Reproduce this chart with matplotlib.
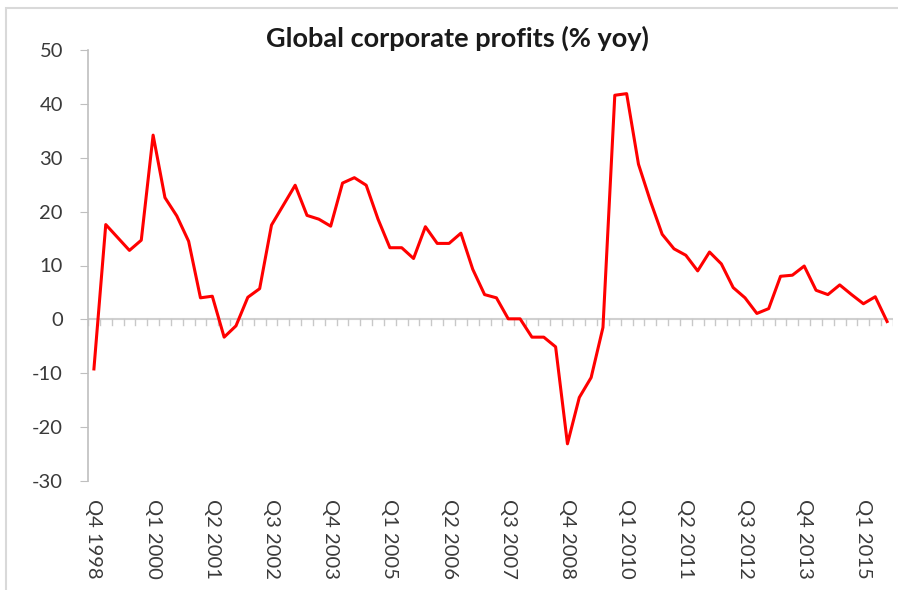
import matplotlib.pyplot as plt
from matplotlib.patches import Rectangle

plt.rcParams['font.family'] = ['Lato', 'DejaVu Sans']
plt.rcParams['axes.unicode_minus'] = False

# Global corporate profits, % yoy, quarterly from Q4 1998
start_year = 1998
start_quarter = 4
profits = [-9.2, 17.6, 15.2, 12.8, 14.7, 34.2, 22.6, 19.2, 14.5, 4.0,
           4.3, -3.3, -1.2, 4.1, 5.7, 17.5, 21.2, 24.9, 19.3, 18.6,
           17.3, 25.3, 26.3, 24.9, 18.6, 13.3, 13.3, 11.3, 17.2, 14.1,
           14.1, 16.0, 9.3, 4.6, 4.0, 0.1, 0.1, -3.3, -3.3, -5.1,
           -23.1, -14.5, -10.8, -1.5, 41.6, 41.9, 28.8, 22.0, 15.8, 13.1,
           11.9, 9.0, 12.5, 10.3, 5.9, 4.0, 1.1, 2.0, 8.0, 8.2,
           9.9, 5.4, 4.6, 6.4, 4.6, 2.9, 4.2, -0.4]

quarters = []
for i in range(len(profits)):
    q = (start_quarter - 1 + i) % 4 + 1
    y = start_year + (start_quarter - 1 + i) // 4
    quarters.append("Q%d %d" % (q, y))

x = list(range(len(profits)))
grey = "#bfbfbf"
text_col = "#3a3a3a"

fig = plt.figure(figsize=(8.98, 5.90), dpi=100)
fig.patches.append(Rectangle((6 / 898, -0.1), 1.2, (590 - 8) / 590 + 0.1,
                             transform=fig.transFigure, fill=False,
                             edgecolor="#d9d9d9", linewidth=1.5))
ax = fig.add_axes([88 / 898, 109 / 590, 805 / 898, 431 / 590])

ax.plot(x, profits, color="#ff0000", linewidth=2.2, zorder=3)

ax.set_xlim(-0.5, len(profits) - 0.5)
ax.set_ylim(-30, 50)
ax.set_yticks(range(-30, 51, 10))
ax.tick_params(axis="y", direction="out", length=6, color=grey,
               labelsize=14.5, labelcolor=text_col, pad=12)

# category axis drawn at zero, with ticks between categories
ax.axhline(0, color="#d0d0d0", linewidth=1.5, zorder=2)
for b in range(len(profits) + 1):
    ax.plot([b - 0.5, b - 0.5], [0, -1.0], color="#c8c8c8",
            linewidth=1, zorder=2)

ax.set_xticks(x[::5])
ax.set_xticklabels(quarters[::5], rotation=-90, fontsize=14.5,
                   color=text_col)
ax.tick_params(axis="x", length=0, pad=13)

for s in ["top", "right", "bottom"]:
    ax.spines[s].set_visible(False)
ax.spines["left"].set_color(grey)
ax.spines["left"].set_linewidth(1.2)

fig.text(457 / 898, 1 - 38 / 590, "Global corporate profits (% yoy)",
         ha="center", va="center", fontsize=19.5, fontweight="bold",
         color="#1a1a1a")

plt.savefig("out.png", dpi=100)
